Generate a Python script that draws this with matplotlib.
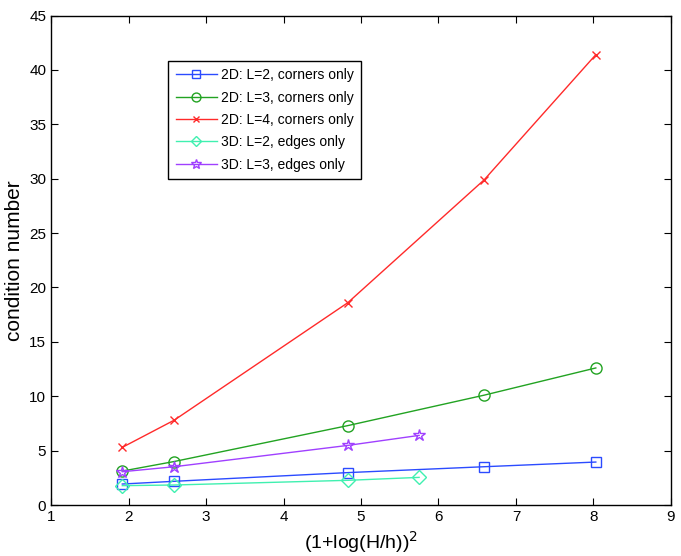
import matplotlib
matplotlib.use("Agg")
import matplotlib.pyplot as plt

plt.rcParams['font.family'] = ['Liberation Sans', 'DejaVu Sans']

# values
x_2d = [1.92, 2.59, 4.83, 6.59, 8.03]
x_3d = [1.92, 2.59, 4.83, 5.75]
y_2d_l2 = [1.93, 2.18, 2.98, 3.52, 3.95]
y_2d_l3 = [3.12, 4.0, 7.3, 10.1, 12.6]
y_2d_l4 = [5.3, 7.8, 18.6, 29.9, 41.4]
y_3d_l2 = [1.78, 1.84, 2.27, 2.54]
y_3d_l3 = [3.06, 3.52, 5.48, 6.4]

labels = ['2D: L=2, corners only', '2D: L=3, corners only', '2D: L=4, corners only',
          '3D: L=2, edges only', '3D: L=3, edges only']

fig = plt.figure(figsize=(6.81, 5.56), dpi=100)
ax = fig.add_axes([0.0749, 0.0917, 0.9104, 0.8804])

ax.plot(x_2d, y_2d_l2, color='#2b4bff', marker='s', mfc='none', ms=7, lw=1, label=labels[0])
ax.plot(x_2d, y_2d_l3, color='#22a322', marker='o', mfc='none', ms=8, lw=1, label=labels[1])
ax.plot(x_2d, y_2d_l4, color='#ff2a2a', marker='x', ms=6, lw=1, label=labels[2])
ax.plot(x_3d, y_3d_l2, color='#40f0b0', marker='D', mfc='none', ms=7, lw=1, label=labels[3])
ax.plot(x_3d, y_3d_l3, color='#a040ff', marker='*', mfc='none', ms=9, lw=1, label=labels[4])

ax.set_xlim(1, 9)
ax.set_ylim(0, 45)
ax.set_xticks(range(1, 10))
ax.set_yticks(range(0, 46, 5))
ax.tick_params(direction='in', labelsize=11, length=5, top=True, right=True)
for s in ax.spines.values():
    s.set_linewidth(1)

ax.set_ylabel('condition number', fontsize=15)
ax.set_xlabel(r'(1+log(H/h))$^2$', fontsize=14)

leg = ax.legend(loc='upper left', bbox_to_anchor=(0.1887, 0.908), borderaxespad=0,
                fontsize=10, fancybox=False, edgecolor='black', framealpha=1,
                markerscale=0.8, handlelength=2.95, handletextpad=0.3,
                borderpad=0.55, labelspacing=0.6)
leg.get_frame().set_linewidth(1)

fig.savefig('out.png', dpi=100)
